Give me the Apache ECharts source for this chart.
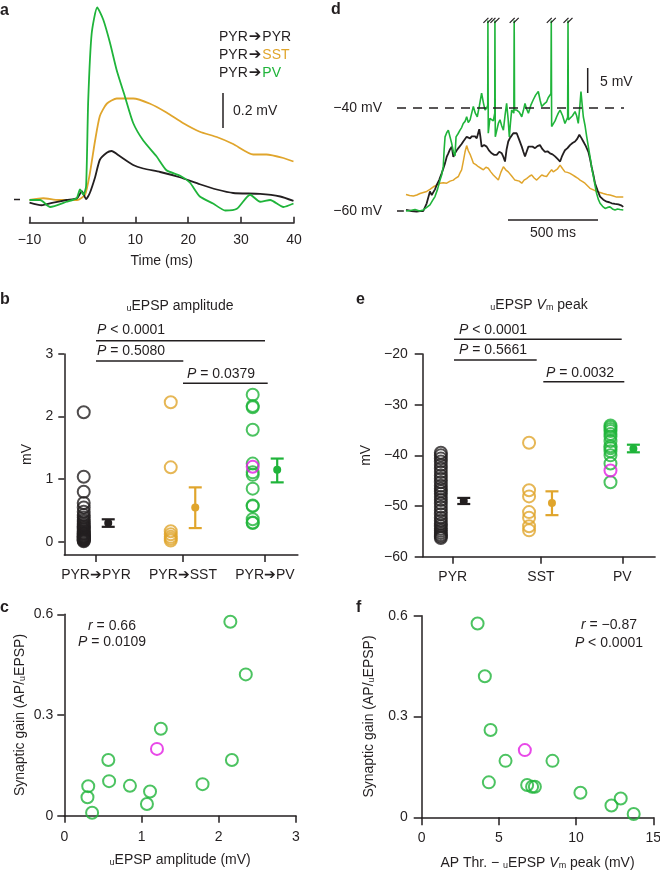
<!DOCTYPE html>
<html><head><meta charset="utf-8">
<script src="https://cdn.jsdelivr.net/npm/echarts@6/dist/echarts.min.js"></script>
<style>html,body{margin:0;padding:0;background:#fff}#c{width:660px;height:871px}</style>
</head><body><div id="c"></div>
<script>
// ---------------- DATA ----------------
// Panel a: average uEPSP traces [time ms, mV above baseline]
const aPYR = [[-10,-0.015],[-7.7,-0.03],[-5.5,-0.015],[-3,0],[-1,0.01],[-0.1,0.05],[0.7,0.005],[1.4,0.04],[2.4,0.13],[3.3,0.23],[4.6,0.27],[5.5,0.28],[7.1,0.25],[9.6,0.2],[11.5,0.18],[14.7,0.16],[18.4,0.13],[22.2,0.09],[25.4,0.06],[28.5,0.04],[33.6,0.035],[37.4,0.02],[39.9,-0.005]];
const aSST = [[-10,0],[-7.4,0.01],[-4.5,0],[-1,0],[0.5,0.03],[1.4,0.15],[2.4,0.34],[3.3,0.48],[4.6,0.55],[6.5,0.58],[9.6,0.58],[12.8,0.55],[15.9,0.5],[19,0.44],[22.2,0.39],[25.4,0.36],[28.5,0.32],[32.3,0.26],[34.8,0.26],[38,0.24],[39.9,0.22]];
const aPV = [[-10,0],[-8,0],[-6.1,-0.04],[-3,-0.01],[-1.1,0.01],[-0.45,0.06],[0.2,0.03],[0.7,0.08],[1.1,0.57],[1.75,0.95],[2.8,1.1],[3.95,1.03],[5.2,0.9],[6.5,0.74],[8.05,0.59],[9.6,0.44],[11.5,0.34],[14,0.25],[15.9,0.17],[18.4,0.14],[20.3,0.1],[22.2,0.02],[24.7,-0.02],[27,-0.06],[29.2,-0.05],[31.7,0.03],[33.6,-0.01],[35.5,0],[38,-0.04],[39.9,-0.02]];

// Panel d: membrane potential traces [time ms, mV]
const dPV = [[0,-60],[25,-59.9],[50,-59.7],[75,-60],[96,-59.8],[115,-59.3],[133,-58.8],[147,-58],[161,-57.2],[175,-55.8],[189,-54],[198,-53],[207,-51.4],[212,-48],[217,-45.6],[226,-44.8],[235,-44.3],[244,-44],[254,-46.9],[263,-48.5],[272,-49.3],[278,-45.6],[289,-45],[300,-44.3],[309,-43.8],[318,-43],[328,-42.6],[337,-41.7],[346,-42.8],[356,-42.3],[365,-41],[374,-39.7],[385,-41],[396,-41.7],[408,-39.5],[420,-37.1],[430,-39],[439,-40.4],[448,-40],[454,-39.5],[455,-23],[457,-44.9],[466,-42],[476,-41.7],[485,-42.5],[493,-41],[494,-23],[496,-45.6],[504,-45.6],[513,-43],[522,-42.3],[532,-43.5],[541,-44.3],[550,-41.5],[559,-39.1],[567,-42],[574,-45.6],[580,-43],[587,-40.4],[599,-41],[601,-23],[603,-40.4],[615,-40.4],[629,-40.8],[643,-41.7],[652,-40.5],[661,-39.1],[670,-40.2],[680,-41],[693,-39.5],[707,-38.4],[720,-37.5],[735,-36.8],[745,-38.5],[754,-39.7],[768,-39.2],[781,-38.8],[790,-38],[805,-37.2],[807,-23],[809,-43.6],[819,-43.6],[828,-42.5],[837,-41.7],[846,-41],[856,-40.4],[870,-41.5],[883,-43],[898,-41.8],[900,-23],[902,-42.3],[911,-42.3],[925,-41.5],[939,-40.7],[948,-41.5],[957,-43],[965,-40],[972,-36.8],[979,-39.5],[985,-41.7],[995,-43.5],[1004,-45.6],[1013,-47.5],[1022,-49.4],[1031,-51.5],[1041,-53.3],[1050,-55],[1059,-56.6],[1068,-57.7],[1078,-58.5],[1092,-59.1],[1106,-59.5],[1120,-59.3],[1133,-59.2],[1147,-59.6],[1161,-59.8],[1175,-59.6],[1189,-59.7],[1207,-59.8]];
const dPYR = [[0,-59.8],[30,-60],[59,-60.1],[78,-60],[96,-60],[115,-58.5],[133,-56.2],[143,-56.9],[152,-56.9],[161,-55.8],[170,-55],[184,-54],[198,-52.7],[207,-51.8],[217,-50.7],[226,-49.5],[235,-48.8],[245,-48],[254,-47.5],[263,-49.5],[272,-48.8],[282,-48.2],[291,-47.8],[300,-47.5],[309,-47],[318,-46.5],[328,-46.2],[337,-45.6],[346,-45.8],[356,-45.9],[365,-45.5],[374,-45.2],[384,-45.5],[393,-45.9],[400,-45],[407,-44.1],[413,-45.5],[420,-47.5],[434,-47.2],[448,-47.5],[462,-48.3],[476,-48.8],[490,-49.1],[504,-49.1],[518,-48.5],[532,-48.8],[541,-49.5],[550,-50.4],[559,-48],[568,-46.5],[578,-45.8],[587,-45.5],[596,-44.9],[605,-45.2],[615,-44.9],[629,-46.2],[643,-47.5],[652,-48.5],[661,-49.4],[670,-48.5],[680,-47.5],[689,-47.2],[703,-47.5],[717,-47.8],[730,-47.4],[744,-47.2],[758,-48],[772,-48.5],[786,-48.4],[800,-48.8],[814,-49],[828,-49.4],[842,-49.9],[856,-50.4],[865,-49.5],[874,-48.8],[883,-48.2],[897,-47.8],[911,-47.2],[925,-46.8],[939,-46.5],[951,-46],[963,-45.2],[974,-45.8],[985,-46.5],[999,-47.4],[1013,-48.5],[1022,-49.8],[1031,-51.4],[1041,-53],[1050,-54.6],[1064,-56],[1078,-57.2],[1096,-57.8],[1115,-58.2],[1129,-58.3],[1143,-58.5],[1161,-58.6],[1180,-58.7],[1195,-58.9],[1207,-59.2]];
const dSST = [[0,-56.8],[20,-57],[41,-57.1],[60,-56.9],[78,-56.6],[96,-56.4],[115,-56.2],[133,-55.8],[152,-55.3],[170,-55],[189,-54.6],[207,-54.5],[226,-54.6],[245,-54.2],[263,-54],[277,-53.6],[291,-53.3],[300,-52.6],[309,-52],[318,-50.4],[328,-48.5],[337,-47.3],[346,-48.3],[356,-49],[365,-49.8],[374,-50.7],[388,-51],[402,-51.4],[416,-51.7],[430,-52],[444,-51.5],[457,-51.7],[471,-52.4],[485,-53],[499,-53.5],[513,-54],[527,-52.5],[541,-51.4],[554,-52],[568,-52.4],[587,-53.2],[605,-54],[615,-53.7],[629,-54.2],[643,-54.6],[656,-54],[670,-53.7],[684,-53.3],[698,-53],[712,-53.6],[726,-54],[740,-53.5],[754,-53],[768,-53.2],[781,-53.3],[795,-52.6],[809,-52],[818,-52.4],[828,-52.7],[842,-51.8],[856,-51.1],[870,-51.8],[883,-52.4],[897,-52.5],[911,-52.7],[925,-53],[939,-53.3],[953,-53.6],[967,-54],[981,-54.3],[994,-54.6],[1008,-55.1],[1022,-55.6],[1041,-55.9],[1059,-56.2],[1078,-56.4],[1096,-56.6],[1115,-56.8],[1133,-56.9],[1152,-57.1],[1170,-57.3],[1189,-57.3],[1207,-57.3]];
const dSpikeTimes = [455, 494, 601, 807, 900];
const dSpikeTop = -23;

// Panel b: uEPSP amplitude (mV)
const bCats = ['PYR➔PYR', 'PYR➔SST', 'PYR➔PV'];
const bPYR = [2.07,1.04,0.8,0.62,0.55,0.48,0.43,0.39,0.35,0.32,0.29,0.26,0.24,0.22,0.2,0.18,0.16,0.14,0.13,0.12,0.1,0.09,0.08,0.07,0.06,0.05,0.04,0.03,0.02,0.01];
const bSST = [2.23,1.19,0.17,0.12,0.08,0.05,0.02];
const bPV = [2.35,2.17,2.15,1.79,1.25,1.11,1.07,0.85,0.58,0.57,0.36,0.31,0.30];
const bPVMagenta = [1.20];
const bMeanSem = [[0.30,0.24,0.36],[0.55,0.22,0.87],[1.15,0.95,1.33]]; // mean, low, high
const bYTicks = [0, 1, 2, 3];

// Panel e: uEPSP Vm peak (mV)
const eCats = ['PYR', 'SST', 'PV'];
const ePYR = [-39.5,-40.0,-40.6,-41.2,-41.9,-42.6,-43.3,-44.0,-44.6,-45.3,-46.0,-46.6,-47.1,-47.6,-48.2,-48.8,-49.5,-50.2,-50.9,-51.6,-52.3,-52.9,-53.5,-54.0,-54.5,-54.9,-55.3,-55.7,-56.0,-56.3];
const eSST = [-37.5,-46.9,-48.1,-51.2,-52.3,-54.0,-54.8];
const ePV = [-34.1,-34.4,-34.8,-35.2,-35.8,-36.3,-37.2,-38.2,-38.6,-39.2,-40.0,-41.6,-45.3];
const ePVMagenta = [-43.0];
const eMeanSem = [[-49.0,-49.6,-48.4],[-49.4,-51.8,-47.1],[-38.7,-39.4,-37.9]];

// Panel c: synaptic gain vs uEPSP amplitude
const cPV = [[2.15,0.578],[2.35,0.421],[1.25,0.259],[0.57,0.166],[2.17,0.166],[0.58,0.103],[0.85,0.089],[1.79,0.094],[0.31,0.088],[1.11,0.072],[0.30,0.055],[1.07,0.035],[0.36,0.009]];
const cPVMagenta = [[1.20,0.199]];
// Panel f: synaptic gain vs (AP thr - Vm peak)
const fPV = [[3.62,0.577],[4.09,0.42],[4.46,0.26],[5.43,0.168],[8.47,0.168],[4.35,0.104],[6.83,0.096],[7.15,0.091],[7.33,0.091],[10.28,0.073],[12.89,0.056],[12.29,0.035],[13.73,0.01]];
const fPVMagenta = [[6.68,0.2]];

// ---------------- STYLE ----------------
const INK = '#231f20';
const GREEN = '#1fb43a';
const ORANGE = '#e0a52c';
const MAGENTA = '#e21be2';
const FF = "'Liberation Sans', Arial, sans-serif";
const FS = 14;
const bTickPos = [1, 2.03, 3], bCircOff = -0.145, bMeanOff = 0.145;
const eTickPos = [1, 2.04, 3], eCircOff = -0.14, eMeanOff = 0.13;
const minus = v => (v < 0 ? '\u2212' + Math.abs(v) : String(v));

const RICH = {
  n: {font: `${FS}px ${FF}`, fontSize: FS, fontFamily: FF},
  i: {font: `italic ${FS}px ${FF}`, fontStyle: 'italic', fontSize: FS, fontFamily: FF},
  sub: {font: `9px ${FF}`, fontSize: 9, fontFamily: FF, verticalAlign: 'bottom'},
  ar: {font: `bold 15px 'DejaVu Sans', sans-serif`, fontSize: 15, fontWeight: 'bold', fontFamily: 'DejaVu Sans', padding: [0, 1, 0, 1]},
  o: {font: `${FS}px ${FF}`, fontSize: FS, fontFamily: FF, fill: ORANGE, color: ORANGE},
  g: {font: `${FS}px ${FF}`, fontSize: FS, fontFamily: FF, fill: GREEN, color: GREEN}
};

const axLine = {show: true, onZero: false, lineStyle: {color: INK, width: 1.5}};
const axLabel = (extra) => Object.assign({color: INK, fontSize: FS, fontFamily: FF}, extra);
const nameStyle = {color: INK, fontSize: FS, fontFamily: FF, rich: RICH};

function T(x, y, text, align, extra) {
  return {type: 'text', z: 100, style: Object.assign({
    text: text, x: x, y: y, fill: INK, font: `${FS}px ${FF}`,
    textAlign: align || 'left', align: align || 'left',
    textVerticalAlign: 'middle', verticalAlign: 'middle', rich: RICH
  }, extra || {})};
}
function L(x1, y1, x2, y2, w) {
  return {type: 'line', z: 100, shape: {x1, y1, x2, y2}, style: {stroke: INK, lineWidth: w || 1.5}};
}
const bold = {font: `bold 16px ${FF}`};

// ---------------- CHART ----------------
const chart = echarts.init(document.getElementById('c'), null, {renderer: 'canvas'});

function ringScatter(xIdx, data, color, z) {
  return {type: 'scatter', xAxisIndex: xIdx, yAxisIndex: xIdx, data: data, symbol: 'circle', symbolSize: 12,
    itemStyle: {color: 'rgba(0,0,0,0)', borderColor: color, borderWidth: 2}, z: z || 3, silent: true};
}
function errSeries(xIdx, data, colors) {
  return {type: 'custom', xAxisIndex: xIdx, yAxisIndex: xIdx, data: data, z: 5, clip: false,
    encode: {x: 0, y: [1, 2, 3]},
    renderItem: function (params, api) {
      const c = colors[params.dataIndex];
      const x = api.value(0);
      const pm = api.coord([x, api.value(1)]);
      const pl = api.coord([x, api.value(2)]);
      const ph = api.coord([x, api.value(3)]);
      const st = {stroke: c, lineWidth: 2.2};
      return {type: 'group', children: [
        {type: 'line', shape: {x1: pl[0], y1: pl[1], x2: ph[0], y2: ph[1]}, style: st},
        {type: 'line', shape: {x1: pl[0] - 6.5, y1: pl[1], x2: pl[0] + 6.5, y2: pl[1]}, style: st},
        {type: 'line', shape: {x1: ph[0] - 6.5, y1: ph[1], x2: ph[0] + 6.5, y2: ph[1]}, style: st},
        {type: 'circle', shape: {cx: pm[0], cy: pm[1], r: 4}, style: {fill: c}}
      ]};
    }};
}
function traceSeries(idx, data, color, w, smooth) {
  return {type: 'line', xAxisIndex: idx, yAxisIndex: idx, data: data, showSymbol: false, smooth: smooth || false,
    lineStyle: {color: color, width: w}, z: 2, silent: true, animation: false};
}

const option = {
  animation: false,
  backgroundColor: '#fff',
  grid: [
    {left: 29.5, top: 4, width: 264.5, height: 218.75},
    {left: 397, top: 15.3, width: 227, height: 200.85},
    {left: 64.3, top: 354, width: 233.6, height: 201},
    {left: 422.7, top: 354, width: 232.4, height: 202.7},
    {left: 64.3, top: 614.3, width: 231.7, height: 201.4},
    {left: 421.7, top: 615.7, width: 231.6, height: 201.6}
  ].map(g => Object.assign({containLabel: false, outerBoundsMode: 'none'}, g)),
  xAxis: [
    {gridIndex: 0, type: 'value', min: -10, max: 40, interval: 10, axisLine: axLine,
      axisTick: {inside: true, length: 6, lineStyle: {color: INK, width: 1.5}},
      axisLabel: axLabel({margin: 10, formatter: minus}), splitLine: {show: false},
      name: 'Time (ms)', nameLocation: 'middle', nameGap: 31, nameTextStyle: nameStyle},
    {gridIndex: 1, type: 'value', min: -50, max: 1211, show: false, splitLine: {show: false}},
    {gridIndex: 2, type: 'value', min: 0.625, max: 3.39, axisLine: axLine,
      axisTick: {length: 7, customValues: bTickPos, lineStyle: {color: INK, width: 1.5}},
      axisLabel: axLabel({margin: 13, customValues: bTickPos,
        formatter: v => bCats[bTickPos.findIndex(t => Math.abs(t - v) < 1e-6)] || ''}),
      splitLine: {show: false}},
    {gridIndex: 3, type: 'value', min: 0.646, max: 3.386, axisLine: axLine,
      axisTick: {length: 7, customValues: eTickPos, lineStyle: {color: INK, width: 1.5}},
      axisLabel: axLabel({margin: 13, customValues: eTickPos,
        formatter: v => eCats[eTickPos.findIndex(t => Math.abs(t - v) < 1e-6)] || ''}),
      splitLine: {show: false}},
    {gridIndex: 4, type: 'value', min: 0, max: 3, interval: 1, axisLine: axLine,
      axisTick: {length: 7, lineStyle: {color: INK, width: 1.5}},
      axisLabel: axLabel({margin: 14}), splitLine: {show: false},
      name: '{sub|u}{n|EPSP amplitude (mV)}', nameLocation: 'middle', nameGap: 37, nameTextStyle: nameStyle},
    {gridIndex: 5, type: 'value', min: 0, max: 15, interval: 5, axisLine: axLine,
      axisTick: {length: 8, lineStyle: {color: INK, width: 1.5}},
      axisLabel: axLabel({margin: 14}), splitLine: {show: false},
      name: '{n|AP Thr. \u2212 }{sub|u}{n|EPSP }{i|V}{sub|m}{n| peak (mV)}', nameLocation: 'middle', nameGap: 39, nameTextStyle: nameStyle}
  ],
  yAxis: [
    {gridIndex: 0, type: 'value', min: -0.13, max: 1.12, show: false, splitLine: {show: false}},
    {gridIndex: 1, type: 'value', min: -61, max: -22, show: false, splitLine: {show: false}},
    {gridIndex: 2, type: 'value', min: -0.21, max: 3, axisLine: axLine,
      axisTick: {length: 6, customValues: bYTicks, lineStyle: {color: INK, width: 1.5}},
      axisLabel: axLabel({margin: 11, customValues: bYTicks}), splitLine: {show: false},
      name: '{n|mV}', nameLocation: 'middle', nameGap: 30, nameTextStyle: nameStyle},
    {gridIndex: 3, type: 'value', min: -60, max: -20, interval: 10, axisLine: axLine,
      axisTick: {length: 8, lineStyle: {color: INK, width: 1.5}},
      axisLabel: axLabel({margin: 15, formatter: minus}), splitLine: {show: false},
      name: '{n|mV}', nameLocation: 'middle', nameGap: 50, nameTextStyle: nameStyle},
    {gridIndex: 4, type: 'value', min: 0, max: 0.6, interval: 0.3, axisLine: axLine,
      axisTick: {length: 7, lineStyle: {color: INK, width: 1.5}},
      axisLabel: axLabel({margin: 11}), splitLine: {show: false},
      name: '{n|Synaptic gain (AP/}{sub|u}{n|EPSP)}', nameLocation: 'middle', nameGap: 37, nameTextStyle: nameStyle},
    {gridIndex: 5, type: 'value', min: 0, max: 0.6, interval: 0.3, axisLine: axLine,
      axisTick: {length: 8, lineStyle: {color: INK, width: 1.5}},
      axisLabel: axLabel({margin: 14}), splitLine: {show: false},
      name: '{n|Synaptic gain (AP/}{sub|u}{n|EPSP)}', nameLocation: 'middle', nameGap: 46, nameTextStyle: nameStyle}
  ],
  series: [
    // a
    traceSeries(0, aSST, ORANGE, 1.8, 0.2),
    traceSeries(0, aPYR, INK, 1.8, 0.2),
    traceSeries(0, aPV, GREEN, 1.8, 0.2),
    // d
    traceSeries(1, dSST, ORANGE, 1.5),
    Object.assign(traceSeries(1, dPYR, INK, 1.8), {
      markLine: {silent: true, symbol: 'none', label: {show: false}, animation: false,
        data: [
          [{coord: [-50, -40]}, {coord: [1211, -40]}],
          [{coord: [-50, -60]}, {coord: [-12, -60]}]
        ],
        lineStyle: {color: INK, width: 1.5, type: [9, 7]}}
    }),
    traceSeries(1, dPV, GREEN, 1.6),
    {type: 'custom', xAxisIndex: 1, yAxisIndex: 1, data: dSpikeTimes.map(t => [t, dSpikeTop]), z: 6, clip: false,
      renderItem: function (params, api) {
        const p = api.coord([api.value(0), api.value(1)]);
        const st = {stroke: INK, lineWidth: 1.2};
        return {type: 'group', children: [
          {type: 'line', shape: {x1: p[0] - 4.5, y1: p[1] + 2.5, x2: p[0] + 0.5, y2: p[1] - 2.5}, style: st},
          {type: 'line', shape: {x1: p[0] - 0.5, y1: p[1] + 2.5, x2: p[0] + 4.5, y2: p[1] - 2.5}, style: st}
        ]};
      }},
    // b
    ringScatter(2, bPYR.map(v => [bTickPos[0] + bCircOff, v]), INK),
    ringScatter(2, bSST.map(v => [bTickPos[1] + bCircOff, v]), ORANGE),
    ringScatter(2, bPV.map(v => [bTickPos[2] + bCircOff, v]), GREEN),
    ringScatter(2, bPVMagenta.map(v => [bTickPos[2] + bCircOff, v]), MAGENTA, 4),
    errSeries(2, bMeanSem.map((m, i) => [bTickPos[i] + bMeanOff, m[0], m[1], m[2]]), [INK, ORANGE, GREEN]),
    // e
    ringScatter(3, ePYR.map(v => [eTickPos[0] + eCircOff, v]), INK),
    ringScatter(3, eSST.map(v => [eTickPos[1] + eCircOff, v]), ORANGE),
    ringScatter(3, ePV.map(v => [eTickPos[2] + eCircOff, v]), GREEN),
    ringScatter(3, ePVMagenta.map(v => [eTickPos[2] + eCircOff, v]), MAGENTA, 4),
    errSeries(3, eMeanSem.map((m, i) => [eTickPos[i] + eMeanOff, m[0], m[1], m[2]]), [INK, ORANGE, GREEN]),
    // c
    ringScatter(4, cPV, GREEN),
    ringScatter(4, cPVMagenta, MAGENTA, 4),
    // f
    ringScatter(5, fPV, GREEN),
    ringScatter(5, fPVMagenta, MAGENTA, 4)
  ],
  graphic: [
    // panel letters
    T(0, 11, 'a', 'left', bold), T(331, 10, 'd', 'left', bold),
    T(0, 300, 'b', 'left', bold), T(356, 300, 'e', 'left', bold),
    T(0, 608, 'c', 'left', bold), T(356, 608, 'f', 'left', bold),
    // a legend + scale
    T(219, 37, '{n|PYR}{ar|➔}{n|PYR}'),
    T(219, 55, '{n|PYR}{ar|➔}{o|SST}'),
    T(219, 73, '{n|PYR}{ar|➔}{g|PV}'),
    L(223, 93, 223, 128), T(233, 111, '{n|0.2 mV}'),
    L(14, 199.5, 20, 199.5),
    // d labels + scale bars
    T(382, 108, '{n|\u221240 mV}', 'right'), T(382, 211, '{n|\u221260 mV}', 'right'),
    L(587.7, 68, 587.7, 93), T(600, 82, '{n|5 mV}'),
    L(508, 220, 598, 220), T(553, 233, '{n|500 ms}', 'center'),
    // b title + significance
    T(180, 306, '{sub|u}{n|EPSP amplitude}', 'center'),
    T(97, 330, '{i|P}{n| < 0.0001}'), L(96, 340.7, 265, 340.7),
    T(97, 350.7, '{i|P}{n| = 0.5080}'), L(96, 361, 183.3, 361),
    T(187, 374, '{i|P}{n| = 0.0379}'), L(183, 383.3, 267.7, 383.3),
    // e title + significance
    T(539, 305, '{sub|u}{n|EPSP }{i|V}{sub|m}{n| peak}', 'center'),
    T(459, 330, '{i|P}{n| < 0.0001}'), L(454, 339.3, 621.7, 339.3),
    T(459, 350, '{i|P}{n| = 0.5661}'), L(454, 360, 536.7, 360),
    T(546, 373.3, '{i|P}{n| = 0.0032}'), L(543.3, 381.7, 624.3, 381.7),
    // c, f stats
    T(112, 626, '{i|r}{n| = 0.66}', 'center'), T(112, 642.5, '{i|P}{n| = 0.0109}', 'center'),
    T(637, 625, '{i|r}{n| = \u22120.87}', 'right'), T(643, 643.3, '{i|P}{n| < 0.0001}', 'right')
  ]
};
chart.setOption(option);
</script></body></html>
